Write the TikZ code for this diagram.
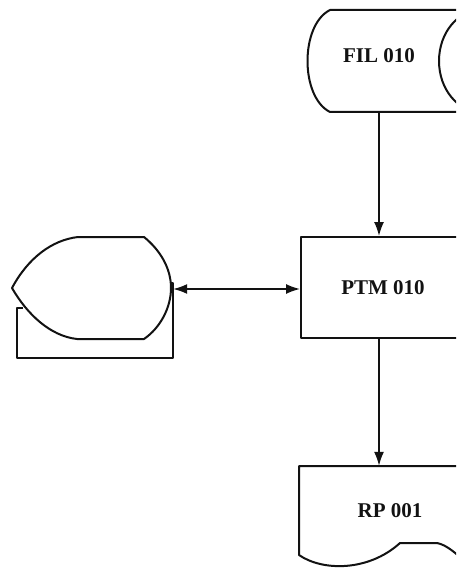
\documentclass[tikz,border=0pt]{standalone}
\usepackage{fontspec}
\usepackage{tikz}
\usepackage{xcolor}
\usetikzlibrary{arrows.meta, positioning, calc}
\newfontfamily\chartfont{Liberation Serif}
\definecolor{inkcol}{RGB}{18,18,18}
\newcommand{\flowfont}{\chartfont\fontsize{21}{24}\selectfont\bfseries}
\tikzset{
  outline/.style={line width=2pt,draw=inkcol,line join=round},
  flowbox/.style={rectangle,outline,minimum width=164pt,minimum height=101pt,font=\flowfont,text=inkcol,inner sep=0pt},
  txtnode/.style={inner sep=0pt,font=\flowfont,text=inkcol},
  flowarrow/.style={-{Latex[length=14pt,width=10pt]},line width=1.6pt,draw=inkcol},
  dualarrow/.style={{Latex[length=14pt,width=10pt]}-{Latex[length=14pt,width=10pt]},line width=1.6pt,draw=inkcol},
}

\begin{document}
\begin{tikzpicture}[x=1pt,y=-1pt]
  \useasboundingbox (0,0) rectangle (456,569);
  \clip (0,0) rectangle (456,569);
  % nodes
  \node[txtnode,minimum height=102pt,text height=14pt,text depth=10pt] (fil) at (379,61) {FIL 010};
  \node[flowbox] (ptm) at (383,287.5) {PTM 010};
  \node[txtnode,minimum width=182pt,minimum height=89pt] (rp) at (390,510.5) {RP 001};
  \node[inner sep=0pt,minimum width=161pt,minimum height=102pt] (disp) at (92.5,289) {};
  % file (drum)
  \draw[outline] (481,10) -- (330,10) .. controls (300,25) and (300,97) .. (330,112) -- (481,112);
  \draw[outline] (481,61) ellipse[x radius=42,y radius=51];
  % report
  \draw[outline] (470,466) -- (299,466) -- (299,555)
    .. controls (322,571) and (368,572) .. (400,543) -- (437,543)
    .. controls (447,545) and (455,553) .. (466,562);
  % display with stand
  \draw[outline] (23,308) -- (17,308) -- (17,358) -- (173,358) -- (173,283) -- (168,283);
  \draw[outline,fill=white] (12,288) .. controls (28,258) and (52,240) .. (78,237) -- (144,237)
    .. controls (160,250) and (171,268) .. (171,288)
    .. controls (171,308) and (160,328) .. (144,339) -- (77,339)
    .. controls (50,336) and (27,314) .. (12,288) -- cycle;
  % connectors
  \draw[flowarrow] (fil.south) -- (fil.south |- ptm.north);
  \draw[flowarrow] (fil.south |- ptm.south) -- (fil.south |- rp.north);
  \draw[dualarrow] (disp.east) -- (disp.east -| ptm.west);
\end{tikzpicture}
\end{document}
